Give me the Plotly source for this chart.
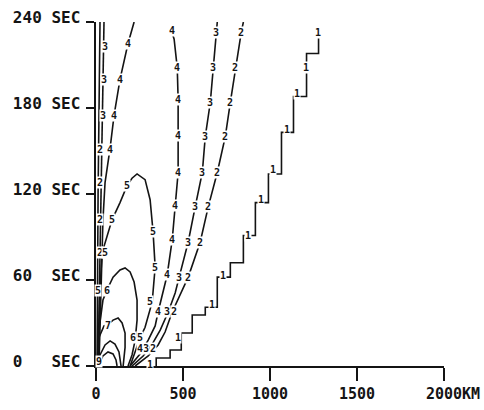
import plotly.graph_objects as go

# ---- axis ticks ----
x_ticks = [0, 500, 1000, 1500, 2000]
x_tick_labels = ["0", "500", "1000", "1500", "\u00a0\u00a02000KM"]
y_ticks = [0, 60, 120, 180, 240]
y_tick_labels = ["0\u00a0\u00a0\u00a0SEC", "60\u00a0\u00a0SEC", "120\u00a0SEC", "180\u00a0SEC", "240\u00a0SEC"]

# ---- contour lines (distance km, time sec) ----
c1_km = [346, 346, 426, 426, 490, 490, 553, 553, 628, 628, 697, 697, 772, 772, 847, 847,
         916, 916, 991, 991, 1066, 1066, 1135, 1135, 1210, 1210, 1279, 1279]
c1_sec = [0, 5.6, 5.6, 11.2, 11.2, 23, 23, 35.6, 35.6, 41, 41, 62, 62, 72, 72, 91,
          91, 114, 114, 134, 134, 163, 163, 188, 188, 218, 218, 230]

c2_km = [225, 300, 357, 397, 438, 484, 530, 599, 645, 697, 743, 772, 801, 835, 847]
c2_sec = [0, 7, 14.7, 23.7, 37.7, 49.6, 62, 86.5, 111, 135, 160, 184, 208, 233, 240]

c3_km = [207, 271, 323, 369, 415, 455, 478, 530, 570, 611, 628, 657, 674, 691, 697]
c3_sec = [0, 7, 15.3, 25, 37.7, 51, 62, 86.5, 111, 135, 160, 184, 208, 233, 240]

c4r_km = [196, 253, 300, 340, 357, 386, 409, 438, 455, 472, 472, 472, 467, 449, 426]
c4r_sec = [0, 8.4, 18, 28, 37.7, 51.6, 63.5, 88, 112, 135, 161, 186, 208, 228, 237]

c4l_km = [17, 29, 35, 40, 52, 81, 104, 138, 184, 219]
c4l_sec = [0, 46, 79, 102, 128, 152, 175, 200, 225, 240]

c2l_km = [6, 12, 23]
c2l_sec = [0, 120, 240]
c3l_km = [12, 29, 46]
c3l_sec = [0, 120, 240]

c5_km = [12, 23, 35, 63, 92, 138, 179, 207, 236, 282, 311, 328, 340, 323, 282, 253, 213, 196]
c5_sec = [0, 53, 79, 90, 102, 114, 126, 131, 134, 130, 116, 93.5, 69, 44.7, 27, 19.5, 6.3, 0]

c6_km = [6, 17, 40, 63, 98, 138, 167, 196, 219, 236, 236, 225, 207, 184]
c6_sec = [0, 25, 46, 53, 62, 67, 68.4, 65.6, 58.6, 46, 32, 18, 7.7, 0]

c7_km = [6, 17, 46, 69, 98, 127, 150, 167, 167, 160, 156]
c7_sec = [0, 20, 28, 29, 32, 33.5, 30, 23, 13, 4, 0]

c8_km = [6, 23, 52, 81, 109, 132, 144]
c8_sec = [0, 7.7, 14.7, 17.5, 15.3, 9.8, 0]

c9_km = [12, 40, 69, 98, 115, 121]
c9_sec = [0, 7, 9.8, 8.4, 4.2, 0]

contours = [(c1_km, c1_sec), (c2_km, c2_sec), (c3_km, c3_sec), (c4r_km, c4r_sec),
            (c4l_km, c4l_sec), (c2l_km, c2l_sec), (c3l_km, c3l_sec), (c5_km, c5_sec),
            (c6_km, c6_sec), (c7_km, c7_sec), (c8_km, c8_sec), (c9_km, c9_sec)]

# ---- contour labels ----
lab_text = (["1"] * 11
            + ["2"] * 10 + ["3"] * 10 + ["4"] * 10 + ["4"] * 4
            + ["3", "3", "3", "2", "2", "2", "2"]
            + ["5"] * 6 + ["6", "5", "6", "5", "7", "9"])
lab_km = ([311, 470, 668, 731, 875, 950, 1020, 1100, 1158, 1204, 1273]
          + [835, 801, 772, 743, 697, 645, 599, 530, 450, 330]
          + [691, 674, 657, 628, 611, 570, 530, 478, 410, 290]
          + [438, 467, 472, 472, 472, 455, 438, 409, 355, 255]
          + [184, 138, 104, 81]
          + [52, 46, 40, 23, 23, 23, 23]
          + [179, 92, 328, 340, 311, 250]
          + [210, 52, 63, 12, 69, 20])
lab_sec = ([1, 20, 43, 63, 91, 116, 137, 165, 190, 208, 233]
           + [233, 208, 184, 160, 135, 111, 86.5, 62, 37.7, 12]
           + [233, 208, 184, 160, 135, 111, 86.5, 62, 37.7, 12]
           + [234, 208, 186, 161, 135, 112, 88, 63.5, 37.7, 12]
           + [225, 200, 175, 151]
           + [223, 200, 175, 151, 128, 102, 79]
           + [126, 102, 93.5, 69, 44.7, 20]
           + [20, 79, 53, 53, 28.6, 3])

INK = "#141414"
fig = go.Figure()
for km, sec in contours:
    fig.add_trace(go.Scatter(x=km, y=sec, mode="lines",
                             line=dict(color=INK, width=1.6),
                             hoverinfo="skip", showlegend=False, cliponaxis=False))

for t, xk, ys in zip(lab_text, lab_km, lab_sec):
    fig.add_annotation(x=xk, y=ys, text=t, showarrow=False,
                       font=dict(family="DejaVu Sans Mono", size=10, color=INK, weight="bold"),
                       bgcolor="white", borderpad=0)

fig.update_layout(
    width=484, height=410,
    margin=dict(l=96, r=40, t=22, b=44),
    paper_bgcolor="white", plot_bgcolor="white",
    font=dict(family="DejaVu Sans Mono", size=16, color=INK),
    xaxis=dict(range=[0, 2000], tickvals=x_ticks, ticktext=x_tick_labels,
               showgrid=False, zeroline=False, showline=True, linewidth=2,
               linecolor=INK, ticks="outside", ticklen=13, tickwidth=2,
               tickcolor=INK, tickfont=dict(size=15, weight="bold"), automargin=False),
    yaxis=dict(range=[0, 240], tickvals=y_ticks, ticktext=y_tick_labels,
               showgrid=False, zeroline=False, showline=True, linewidth=2.5,
               linecolor=INK, ticks="outside", ticklen=8, tickwidth=2,
               tickcolor=INK, tickfont=dict(size=16, weight="bold"), ticklabelshift=-5,
               ticklabelstandoff=2, automargin=False),
)

fig.write_html("out.html", config={"displayModeBar": False, "staticPlot": True},
               post_script="document.body.style.margin='0';document.body.style.overflow='hidden';")
